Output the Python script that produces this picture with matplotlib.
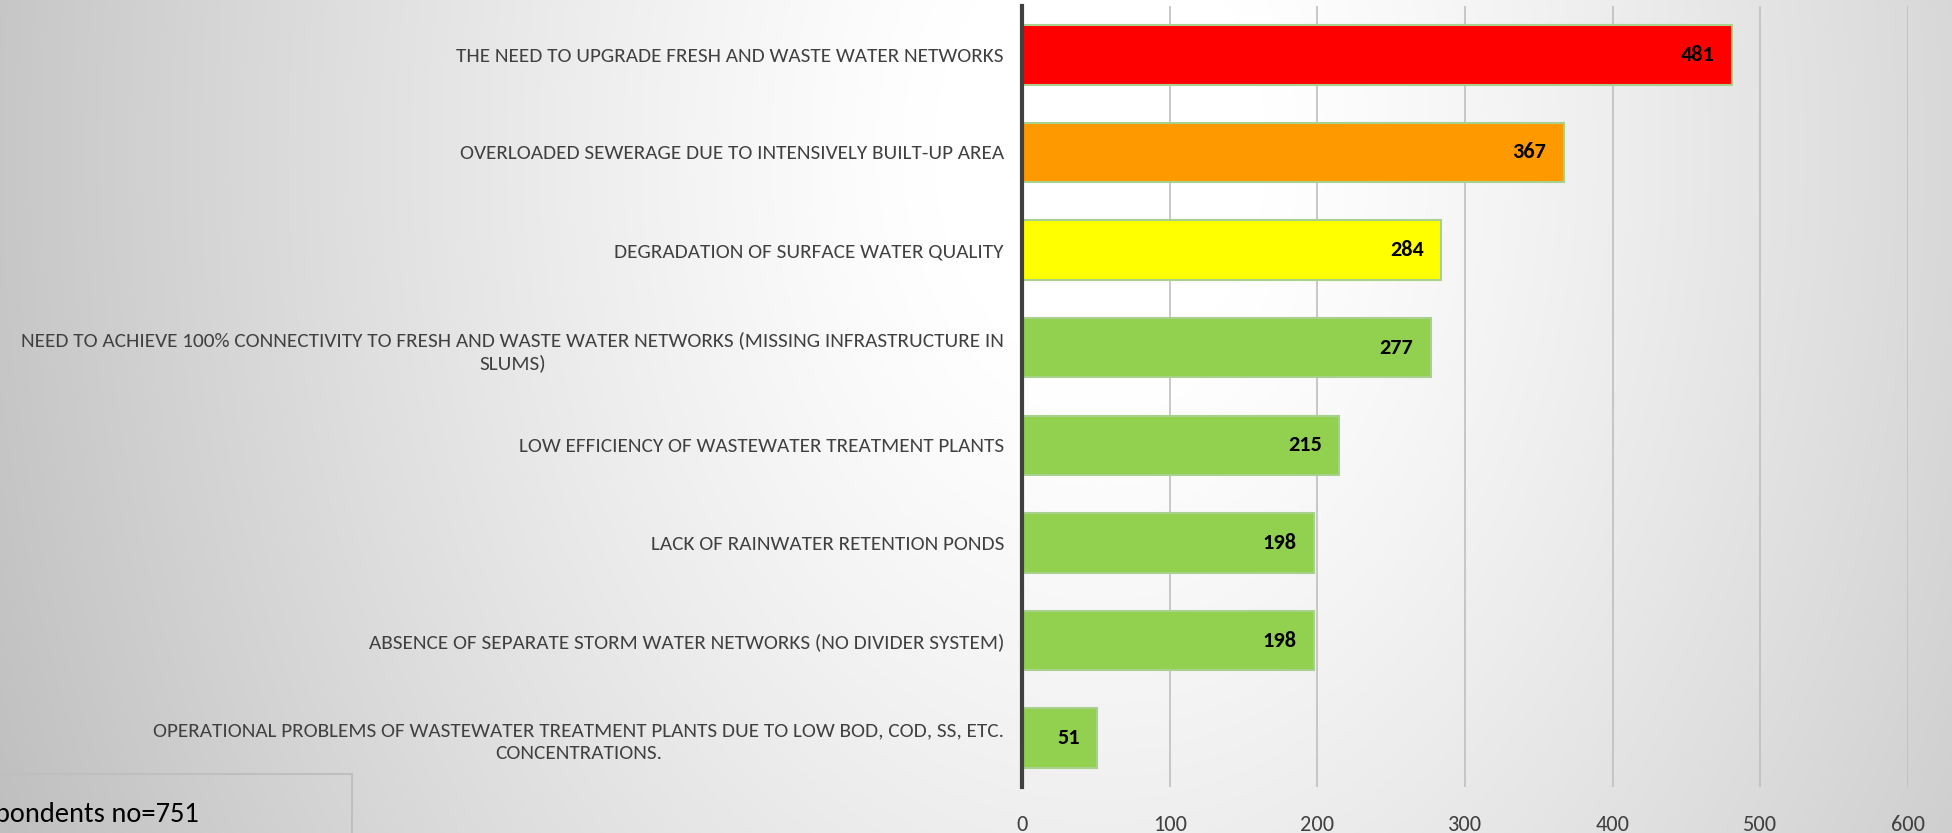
import numpy as np
import matplotlib.pyplot as plt
from matplotlib import font_manager
from matplotlib.patches import Rectangle

# ---------------- DATA ----------------
categories = [
    "THE NEED TO UPGRADE FRESH AND WASTE WATER NETWORKS",
    "OVERLOADED SEWERAGE DUE TO INTENSIVELY BUILT-UP AREA",
    "DEGRADATION OF SURFACE WATER QUALITY",
    "NEED TO ACHIEVE 100% CONNECTIVITY TO FRESH AND WASTE WATER NETWORKS (MISSING INFRASTRUCTURE IN\nSLUMS)",
    "LOW EFFICIENCY OF WASTEWATER TREATMENT PLANTS",
    "LACK OF RAINWATER RETENTION PONDS",
    "ABSENCE OF SEPARATE STORM WATER NETWORKS (NO DIVIDER SYSTEM)",
    "OPERATIONAL PROBLEMS OF WASTEWATER TREATMENT PLANTS DUE TO LOW BOD, COD, SS, ETC.\nCONCENTRATIONS.",
]
values = [481, 367, 284, 277, 215, 198, 198, 51]
bar_colors = ["#ff0000", "#ff9900", "#ffff00", "#92d050",
              "#92d050", "#92d050", "#92d050", "#92d050"]
x_ticks = [0, 100, 200, 300, 400, 500, 600]
note = "Respondents no=751"
# --------------------------------------

installed = {f.name for f in font_manager.fontManager.ttflist}
narrow = [n for n in ["Carlito", "Liberation Sans Narrow", "Roboto Condensed",
                      "Open Sans Condensed", "Noto Sans"] if n in installed]
FAM = narrow[:1] + ["DejaVu Sans"]

W, H = 1952, 833
fig = plt.figure(figsize=(W / 100, H / 100), dpi=100)

# background gradient (white band in the middle, grey towards the sides)
bg = fig.add_axes([0, 0, 1, 1], zorder=-10)
yy, xx = np.mgrid[0:H, 0:W]
d = np.sqrt(((xx - 1100) / 1100.0) ** 2 + ((yy - 150) / 1500.0) ** 2)
shade = 1.0 - 0.22 * np.clip((d - 0.15) / 0.85, 0, 1.3) ** 1.2
bg.imshow(np.dstack([shade] * 3), aspect="auto", extent=[0, W, H, 0])
bg.axis("off")

ax = fig.add_axes([1022 / W, 1 - 787 / H, (1908 - 1022) / W, (787 - 6) / H])
ax.patch.set_alpha(0)

y = np.arange(len(values))
ax.barh(y, values, height=0.61, color=bar_colors,
        edgecolor="#a9d18e", linewidth=1.5, zorder=3)

for yi, v in zip(y, values):
    ax.text(v - 12, yi, str(v), ha="right", va="center",
            fontsize=16, fontweight="bold", color="black",
            family=FAM, zorder=4)

ax.set_ylim(len(values) - 0.5, -0.5)
ax.set_xlim(0, 600)
ax.set_xticks(x_ticks)
ax.set_yticks(y)
ax.set_yticklabels(categories, fontsize=15.3, color="#404040",
                   family=FAM, multialignment="center",
                   linespacing=1.35)
for lbl in ax.get_xticklabels():
    lbl.set_fontsize(16)
    lbl.set_color("#404040")
    lbl.set_family(FAM)

ax.tick_params(axis="y", length=0, pad=13)
ax.tick_params(axis="x", length=0, pad=20)
ax.grid(axis="x", color="#bfbfbf", linewidth=1.2, zorder=0)
for s in ["top", "right", "bottom"]:
    ax.spines[s].set_visible(False)
ax.spines["left"].set_color("#404040")
ax.spines["left"].set_linewidth(3)
ax.spines["left"].set_zorder(5)

# respondents note box in the bottom-left corner (cut by the frame)
fig.patches.append(Rectangle((-20 / W, -20 / H), 372 / W, (59 + 20) / H,
                             transform=fig.transFigure, fill=False,
                             edgecolor="#bfbfbf", linewidth=1.5))
fig.text(-46 / W, 11 / H, note, fontsize=20.5, color="black",
         family=FAM, va="baseline")

plt.savefig("out.png", dpi=100)
